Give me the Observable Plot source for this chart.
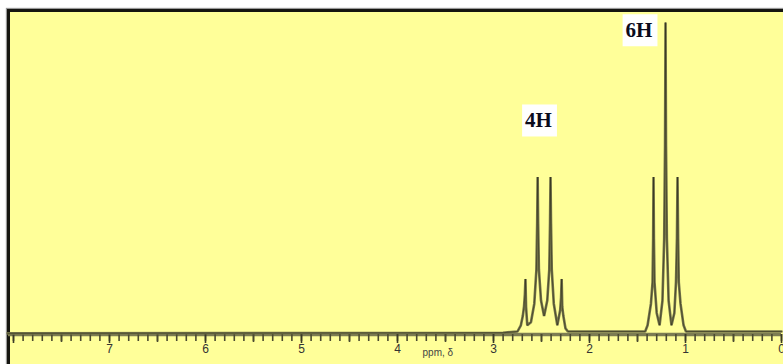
<!DOCTYPE html>
<html>
<head>
<meta charset="utf-8">
<script src="https://cdn.jsdelivr.net/npm/d3@7"></script>
<script src="https://cdn.jsdelivr.net/npm/@observablehq/plot@0.6"></script>
<style>
  html, body { margin: 0; padding: 0; background: #fff; overflow: hidden; }
  #wrap { position: relative; width: 783px; height: 364px; overflow: hidden; }
  #panel { position: absolute; left: 7px; top: 9px; width: 820px; height: 420px;
           background: #ffff99; border-top: 3px solid #151510; border-left: 3px solid #151510;
           box-shadow: -1px -1px 1px #999; }
  #chart { position: absolute; left: 0; top: 0; }
</style>
</head>
<body>
<div id="wrap"><div id="panel"></div><div id="chart"></div></div>
<script>
// Spectrum trace: chemical shift (ppm) and relative intensity (tallest = 100)
const tracePpm = [8.06, 2.90, 2.75, 2.715, 2.695, 2.682, 2.673, 2.667, 2.661, 2.648, 2.61, 2.575, 2.553, 2.545, 2.54, 2.535, 2.527, 2.505, 2.473, 2.44, 2.419, 2.411, 2.406, 2.401, 2.393, 2.372, 2.335, 2.305, 2.296, 2.29, 2.284, 2.272, 2.25, 2.225, 1.42, 1.395, 1.36, 1.343, 1.337, 1.333, 1.329, 1.323, 1.30, 1.27, 1.24, 1.222, 1.213, 1.208, 1.203, 1.194, 1.176, 1.146, 1.116, 1.099, 1.089, 1.083, 1.077, 1.07, 1.052, 1.02, 0.995, 0.0];
const traceInt = [-0.6, -0.4, 0, 2, 5, 8, 12, 17, 8, 2, 3, 9, 20, 35, 50, 35, 20, 10, 5, 10, 20, 35, 50, 35, 20, 9, 2, 7, 11, 17, 8, 5, 1, 0, 0, 2, 9, 16, 30, 50, 30, 16, 6, 2, 10, 30, 60, 100, 60, 30, 10, 2, 6, 16, 30, 50, 30, 16, 9, 2, 0, 0];

// Axis ticks (ppm)
const majorTicks = [0, 1, 2, 3, 4, 5, 6, 7, 8];
const tickLabels = ["0", "1", "2", "3", "4", "5", "6", "7", ""];
const halfTicks = [0.5, 1.5, 2.5, 3.5, 4.5, 5.5, 6.5, 7.5];
const minorTicks = d3.range(0, 81).map(i => i / 10);

// Integration labels
const peakLabelText = ["4H", "6H"];
const peakLabelPpm = [2.531, 1.484];
const peakLabelLevel = [68.2, 97.4];
const axisLabelText = ["ppm, δ"];
const axisLabelPpm = [3.58];

const trace = tracePpm.map((p, i) => ({ppm: p, intensity: traceInt[i]}));
const peakLabels = peakLabelText.map((t, i) => ({label: t, ppm: peakLabelPpm[i], level: peakLabelLevel[i]}));
const axisLabel = axisLabelText.map((t, i) => ({label: t, ppm: axisLabelPpm[i]}));
const baseLevel = -1;

const chart = Plot.plot({
  width: 783,
  height: 364,
  marginLeft: 8, marginRight: 2, marginTop: 12, marginBottom: 30,
  style: {background: "transparent", fontFamily: "Liberation Sans, Arial, sans-serif", overflow: "visible"},
  x: {domain: [8.052, 0], range: [8, 781]},
  y: {domain: [0, 100], range: [331, 22], axis: null},
  marks: [
    Plot.ruleY([baseLevel], {stroke: "#7c7c52", strokeWidth: 3.5}),
    Plot.axisX({ticks: minorTicks, tickSize: 7, tickFormat: () => "", label: null, stroke: "#4a4a30", strokeWidth: 1.6}),
    Plot.axisX({ticks: halfTicks, tickSize: 8, tickFormat: () => "", label: null, stroke: "#4a4a30", strokeWidth: 1.6}),
    Plot.axisX({ticks: majorTicks, tickSize: 9, tickPadding: 1, label: null,
      tickFormat: d => tickLabels[majorTicks.indexOf(d)],
      stroke: "#3a3a28", strokeWidth: 1.6, fill: "#333", fontSize: 12}),
    Plot.line(trace, {x: "ppm", y: "intensity", stroke: "#75754a", strokeWidth: 2.6, strokeLinejoin: "miter"}),
    Plot.line(trace, {x: "ppm", y: "intensity", stroke: "#1a1a10", strokeWidth: 0.8, strokeOpacity: 0.55}),
    Plot.text(axisLabel, {x: "ppm", text: "label", frameAnchor: "bottom", dy: 21, fontSize: 10, fill: "#444"}),
    Plot.text(peakLabels, {x: "ppm", y: "level", text: "label", fontSize: 21, fontWeight: "bold",
      fontFamily: "Liberation Serif, Times New Roman, serif", fill: "#0b0b1c"})
  ]
});
document.getElementById("chart").appendChild(chart);

// white boxes behind the integration labels
const svg = chart.tagName.toLowerCase() === "svg" ? chart : chart.querySelector("svg");
svg.querySelectorAll("text").forEach(t => {
  if (peakLabelText.includes(t.textContent)) {
    const b = t.getBBox();
    const r = document.createElementNS("http://www.w3.org/2000/svg", "rect");
    r.setAttribute("x", b.x - 3);
    r.setAttribute("y", b.y - 4);
    r.setAttribute("width", b.width + 8);
    r.setAttribute("height", b.height + 8);
    r.setAttribute("fill", "#fff");
    const tr = t.getAttribute("transform");
    if (tr) r.setAttribute("transform", tr);
    t.parentNode.insertBefore(r, t);
  }
});
</script>
</body>
</html>
